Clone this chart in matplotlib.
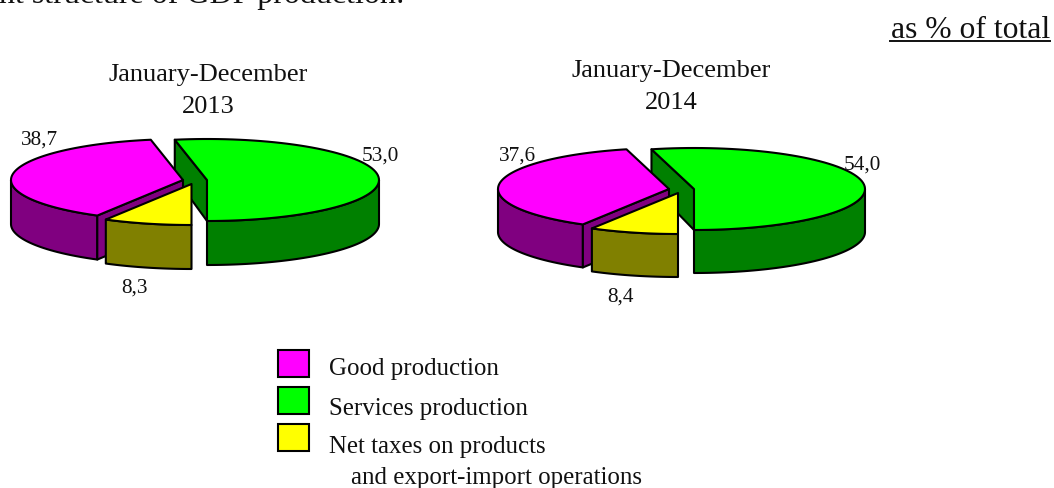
import numpy as np
import matplotlib
matplotlib.use("Agg")
import matplotlib.pyplot as plt

plt.rcParams['font.family'] = ['Liberation Serif', 'DejaVu Serif']

# ---- data ----
periods = ["January-December\n2013", "January-December\n2014"]
goods = [38.7, 37.6]
services = [53.0, 54.0]
taxes = [8.3, 8.4]
goods_labels = ["38,7", "37,6"]
services_labels = ["53,0", "54,0"]
taxes_labels = ["8,3", "8,4"]
legend_names = ["Good production", "Services production", "Net taxes on products"]
legend_extra = "and export-import operations"
unit_note = "as % of total"
clipped_heading = "nt structure of GDP production:"

# ---- styles ----
MAGENTA, PURPLE = "#ff00ff", "#800080"
GREEN, DGREEN = "#00ff00", "#008000"
YELLOW, OLIVE = "#ffff00", "#808000"
EDGE = dict(edgecolor="black", linewidth=1.5, joinstyle="round")

W, H = 1054, 489
fig = plt.figure(figsize=(W / 100, H / 100), dpi=100, facecolor="white")
ax = fig.add_axes([0, 0, 1, 1])
ax.set_xlim(0, W)
ax.set_ylim(H, 0)
ax.axis("off")


def arc(cx, cy, rx, ry, a0, a1, n=80):
    t = np.radians(np.linspace(a0, a1, n))
    return cx + rx * np.cos(t), cy - ry * np.sin(t)


def poly(x, y, color, z):
    ax.fill(x, y, facecolor=color, zorder=z, **EDGE)


def side(cx, cy, rx, ry, a0, a1, depth, color, z):
    """Outer wall of a wedge between two angles (degrees)."""
    x, y = arc(cx, cy, rx, ry, a0, a1)
    poly(np.r_[x, x[::-1]], np.r_[y, y[::-1] + depth], color, z)


def top(cx, cy, rx, ry, a0, a1, color, z):
    x, y = arc(cx, cy, rx, ry, a0, a1)
    poly(np.r_[cx, x], np.r_[cy, y], color, z)


def draw_pie(i, g_c, s_c, t_c, rx, ry, depth):
    g, s, t = goods[i], services[i], taxes[i]
    start = 270 + s * 3.6 - 360          # where services begin
    g_end = start + g * 3.6              # goods run counter-clockwise from there
    # services cut face sits behind the two other wedges
    sx, sy = arc(*s_c, rx, ry, start, start, 1)
    poly([sx[0], s_c[0], s_c[0], sx[0]], [sy[0], s_c[1], s_c[1] + ry, sy[0] + 37], DGREEN, 0.5)
    # goods
    side(*g_c, rx, ry, 180, g_end, depth, PURPLE, 1)
    ex, ey = arc(*g_c, rx, ry, g_end, g_end, 1)
    poly([ex[0], g_c[0], g_c[0], ex[0]], [ey[0], g_c[1], g_c[1] + depth, ey[0] + depth], PURPLE, 2)
    top(*g_c, rx, ry, start, g_end, MAGENTA, 3)
    # taxes
    side(*t_c, rx, ry, g_end, 270, depth, OLIVE, 4)
    top(*t_c, rx, ry, g_end, 270, YELLOW, 5)
    # services
    side(*s_c, rx, ry, 270, 360, depth, DGREEN, 7)
    top(*s_c, rx, ry, start, -90, GREEN, 8)


# pie placement: (goods centre, services centre, taxes centre)
draw_pie(0, (183, 181), (207, 181), (191.5, 185), 172, 41, 44)
draw_pie(1, (669, 190), (694, 190), (678, 194), 171, 41, 43)

TXT = dict(color="#111111", ha="center", va="center")
title_xy = [(208, 91), (671, 87)]
for (x, y), s in zip(title_xy, periods):
    ax.text(x, y, s, fontsize=19, linespacing=1.55, zorder=10, **TXT)

for s, xy in zip(goods_labels, [(39, 140), (517, 156)]):
    ax.text(*xy, s, fontsize=15.3, zorder=10, **TXT)
for s, xy in zip(services_labels, [(380, 156), (862, 165)]):
    ax.text(*xy, s, fontsize=15.3, zorder=10, **TXT)
for s, xy in zip(taxes_labels, [(134, 288), (620, 297)]):
    ax.text(*xy, s, fontsize=15.3, zorder=10, **TXT)

# clipped heading and unit note
ax.text(405, 2.5, clipped_heading, fontsize=23, color="#111111", ha="right", va="baseline")
ax.text(1050, 31, unit_note, fontsize=22.8, color="#111111", ha="right", va="center")
ax.plot([890, 1050], [42, 42], color="#111111", lw=1.4)

# legend
box_y = [351, 388, 425]
text_y = [369.5, 408.5, 446.5]
for y, ty, c, s in zip(box_y, text_y, [MAGENTA, GREEN, YELLOW], legend_names):
    ax.add_patch(plt.Rectangle((278, y), 31, 27, facecolor=c, edgecolor="black", linewidth=1.5))
    ax.text(329, ty, s, fontsize=17.9, color="#111111", ha="left", va="center")
ax.text(351, 478, legend_extra, fontsize=17.9, color="#111111", ha="left", va="center")

fig.savefig("out.png", dpi=100)
